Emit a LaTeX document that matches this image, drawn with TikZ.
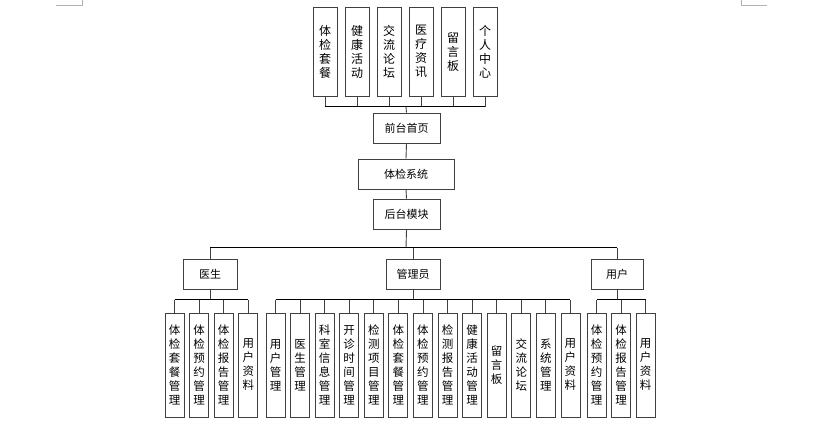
\documentclass[tikz,border=0pt]{standalone}
\usepackage{fontspec}
\setmainfont{Noto Sans CJK SC}
\begin{document}
\begin{tikzpicture}[x=1pt,y=-1pt,
  box/.style={draw=black!75, line width=0.9pt, fill=white, inner sep=0pt, align=center, text=black},
  topbox/.style={box, minimum width=24pt, minimum height=89pt, font=\fontsize{12}{14}\selectfont},
  hbox/.style={box, minimum height=30pt, font=\fontsize{11}{13}\selectfont},
  botbox/.style={box, minimum width=19pt, minimum height=104pt, font=\fontsize{11.5}{14}\selectfont},
  busline/.style={draw=black, line width=1pt},
  stub/.style={draw=black!75, line width=0.9pt},
  corner/.style={draw=black!30, line width=0.8pt}]
\useasboundingbox (0,0) rectangle (820,422);
% page corner marks
\draw[corner] (56,5) -- (82,5) -- (82,0);
\draw[corner] (741,0) -- (741,5) -- (767,5);
% top row
\foreach \i/\x/\t in {1/325/{体\\检\\套\\餐},2/357/{健\\康\\活\\动},3/389/{交\\流\\论\\坛},4/421/{医\\疗\\资\\讯},5/453/{留\\言\\板},6/485/{个\\人\\中\\心}}
  \node[topbox] (t\i) at (\x,51.5) {\t};
\node[hbox, minimum width=67pt] (qt) at (406.5,128) {前台首页};
\node[hbox, minimum width=96pt] (sys) at (406,174) {体检系统};
\node[hbox, minimum width=67pt] (bk) at (406.5,214) {后台模块};
\node[hbox, minimum width=54pt] (doc) at (210,274) {医生};
\node[hbox, minimum width=54pt] (mgr) at (413,274) {管理员};
\node[hbox, minimum width=52pt] (usr) at (617,274) {用户};
% bottom rows
\foreach \i/\t [count=\k from 0] in {1/{体\\检\\套\\餐\\管\\理},2/{体\\检\\预\\约\\管\\理},3/{体\\检\\报\\告\\管\\理},4/{用\\户\\资\\料}}
  \node[botbox] (d\i) at (174.5+24.6*\k,365) {\t};
\foreach \i/\t [count=\k from 0] in {1/{用\\户\\管\\理},2/{医\\生\\管\\理},3/{科\\室\\信\\息\\管\\理},4/{开\\诊\\时\\间\\管\\理},5/{检\\测\\项\\目\\管\\理},6/{体\\检\\套\\餐\\管\\理},7/{体\\检\\预\\约\\管\\理},8/{检\\测\\报\\告\\管\\理},9/{健\\康\\活\\动\\管\\理},10/{留\\言\\板},11/{交\\流\\论\\坛},12/{系\\统\\管\\理},13/{用\\户\\资\\料}}
  \node[botbox] (a\i) at (275.5+24.58*\k,365) {\t};
\foreach \i/\t [count=\k from 0] in {1/{体\\检\\预\\约\\管\\理},2/{体\\检\\报\\告\\管\\理},3/{用\\户\\资\\料}}
  \node[botbox] (u\i) at (596.5+24.5*\k,365) {\t};
% top connectors
\coordinate (tbus) at (406,107);
\foreach \i in {1,...,6} \draw[stub] (t\i.south) -- (t\i.south |- tbus);
\draw[busline] (t1.south |- tbus) -- (t6.south |- tbus);
\draw[stub] (tbus) -- (qt.north);
\draw[stub] (qt.south) -- (sys.north);
\draw[stub] (sys.south) -- (bk.north);
% role level
\coordinate (hub) at (406,248);
\draw[stub] (bk.south) -- (hub);
\draw[busline] (doc.north |- hub) -- (usr.north |- hub);
\draw[stub] (doc.north |- hub) -- (doc.north);
\draw[stub] (mgr.north |- hub) -- (mgr.north);
\draw[stub] (usr.north |- hub) -- (usr.north);
% doctor
\coordinate (dbus) at (210,300);
\draw[stub] (doc.south) -- (dbus);
\foreach \i in {1,...,4} \draw[stub] (d\i.north) -- (d\i.north |- dbus);
\draw[busline] (d1.north |- dbus) -- (d4.north |- dbus);
% admin
\coordinate (abus) at (413,300);
\draw[stub] (mgr.south) -- (abus);
\foreach \i in {1,...,13} \draw[stub] (a\i.north) -- (a\i.north |- abus);
\draw[busline] (a1.north |- abus) -- (a13.north |- abus);
% user
\coordinate (ubus) at (617,300);
\draw[stub] (usr.south) -- (ubus);
\foreach \i in {1,...,3} \draw[stub] (u\i.north) -- (u\i.north |- ubus);
\draw[busline] (u1.north |- ubus) -- (u3.north |- ubus);
\end{tikzpicture}
\end{document}
